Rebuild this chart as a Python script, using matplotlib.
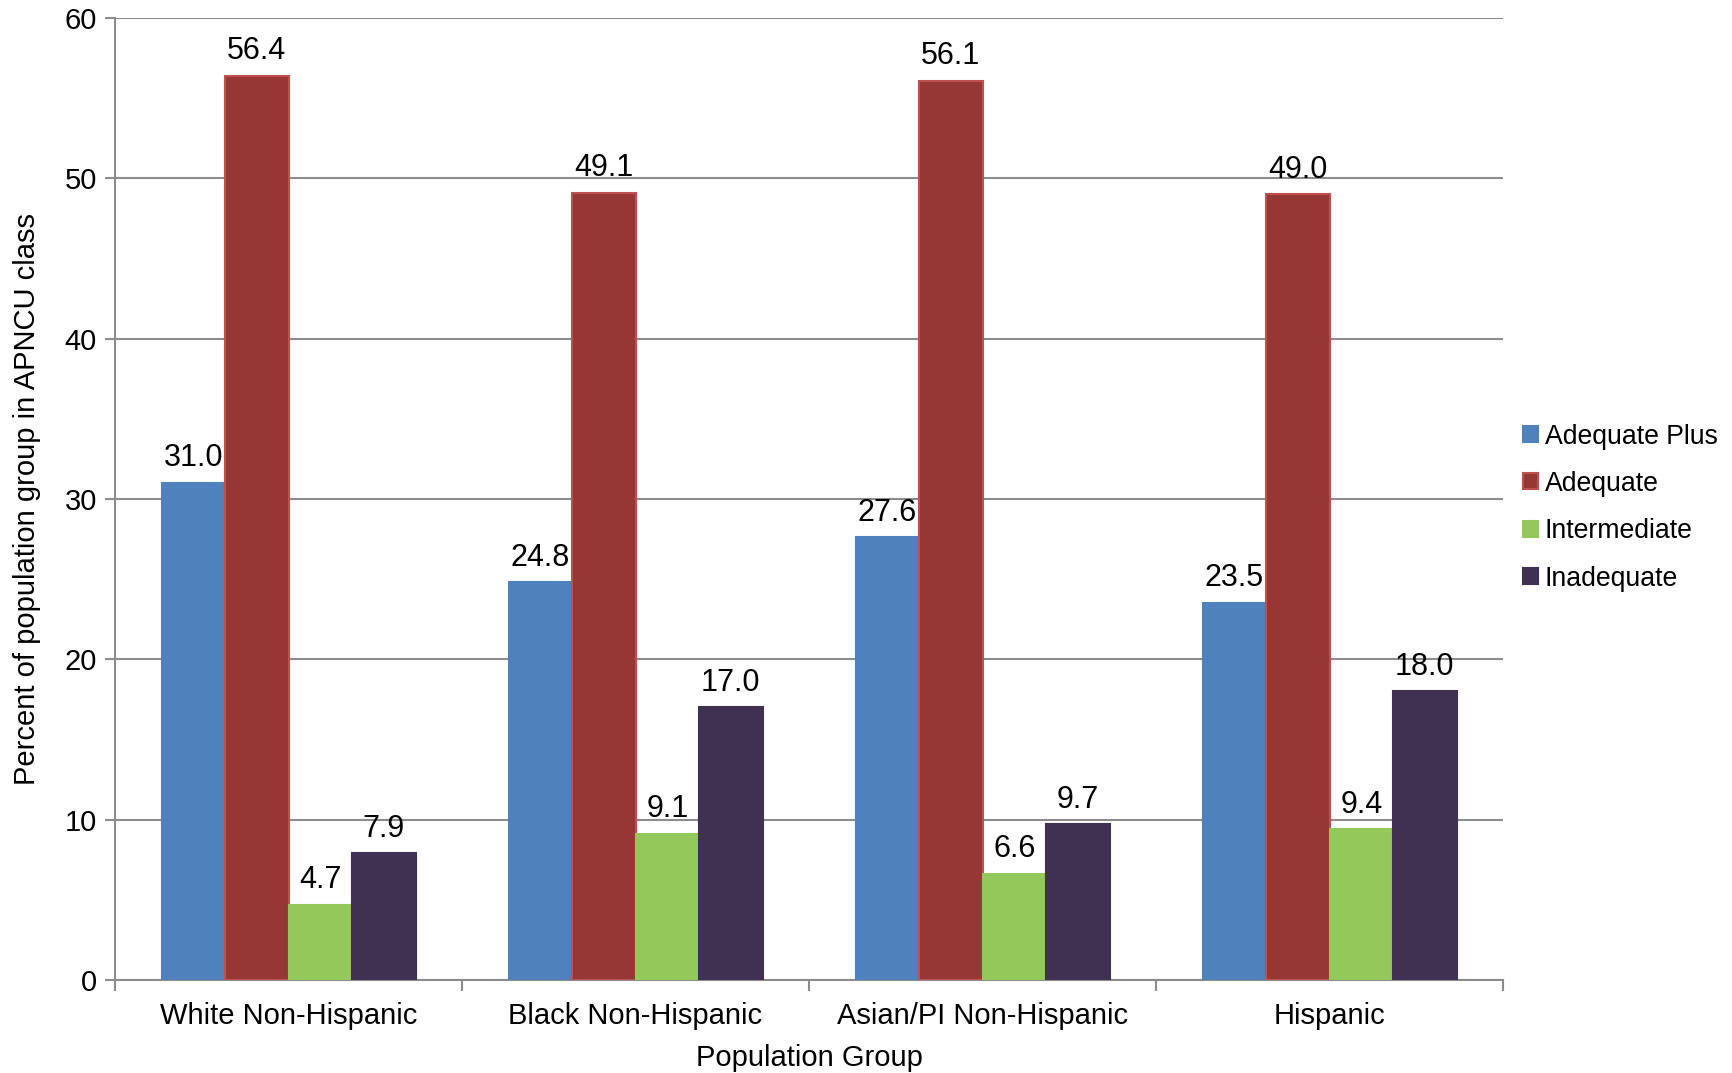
import numpy as np
import matplotlib.pyplot as plt

plt.rcParams['font.family'] = ['Liberation Sans', 'DejaVu Sans']

groups = ["White Non-Hispanic", "Black Non-Hispanic", "Asian/PI Non-Hispanic", "Hispanic"]
series = ["Adequate Plus", "Adequate", "Intermediate", "Inadequate"]
adequate_plus = [31.0, 24.8, 27.6, 23.5]
adequate = [56.4, 49.1, 56.1, 49.0]
intermediate = [4.7, 9.1, 6.6, 9.4]
inadequate = [7.9, 17.0, 9.7, 18.0]

colors = ["#4F81BD", "#953735", "#92C95A", "#403152"]
edges = ["#4F81BD", "#C0504D", "#92C95A", "#403152"]

fig = plt.figure(figsize=(17.33, 10.73), dpi=100)
ax = fig.add_axes([0.0664, 0.0867, 0.8009, 0.8965])

x = np.arange(len(groups))
w = 0.183
data = [adequate_plus, adequate, intermediate, inadequate]
for i, (vals, name) in enumerate(zip(data, series)):
    pos = x + (i - 1.5) * w
    ax.bar(pos, vals, w, color=colors[i], edgecolor=edges[i], linewidth=1.5, label=name, zorder=3)
    for p, v in zip(pos, vals):
        ax.annotate(f"{v:.1f}", (p, v), xytext=(0, 7), textcoords="offset points",
                    ha="center", va="bottom", fontsize=22)

ax.set_xlim(-0.5, 3.5)
ax.set_ylim(0, 60)
ax.set_yticks(range(0, 61, 10))
ax.yaxis.grid(True, color="#8c8c8c", linewidth=1.5, zorder=0)
ax.set_axisbelow(True)

ax.set_xticks(x)
ax.set_xticklabels(groups)
ax.set_xticks(np.arange(-0.5, 4, 1), minor=True)
ax.tick_params(axis="x", which="major", length=0, labelsize=21, pad=16)
ax.tick_params(axis="x", which="minor", length=8, width=1.5, color="#8c8c8c")
ax.tick_params(axis="y", length=7, width=1.5, color="#8c8c8c", labelsize=21, pad=6)

for s in ["top", "right"]:
    ax.spines[s].set_visible(False)
for s in ["left", "bottom"]:
    ax.spines[s].set_color("#8c8c8c")
    ax.spines[s].set_linewidth(1.5)

ax.set_ylabel("Percent of population group in APNCU class", fontsize=21, labelpad=17)
ax.set_xlabel("Population Group", fontsize=21, labelpad=10)

fig.legend(loc="center left", bbox_to_anchor=(0.879, 0.527), bbox_transform=fig.transFigure,
           frameon=False, fontsize=19.2, borderpad=0, borderaxespad=0,
           handlelength=0.55, handleheight=0.55, handletextpad=0.25, labelspacing=0.8)

fig.savefig("out.png", dpi=100)
